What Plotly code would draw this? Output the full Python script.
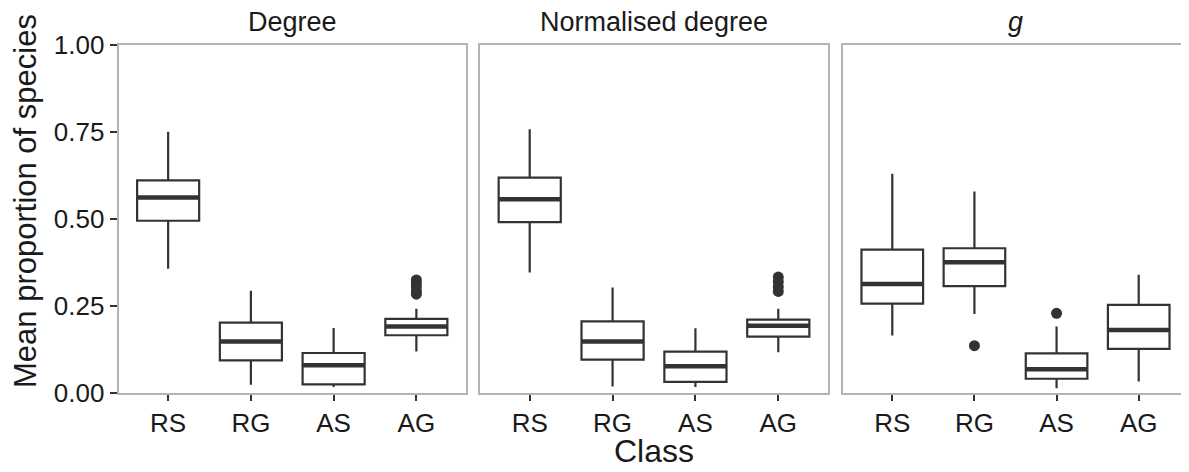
import plotly.graph_objects as go

categories = ["RS", "RG", "AS", "AG"]
panel_titles = ["Degree", "Normalised degree", "<i>g</i>"]

# Box statistics per panel: lower whisker, Q1, median, Q3, upper whisker
deg_low = [0.357, 0.024, 0.017, 0.119]
deg_q1 = [0.495, 0.094, 0.025, 0.166]
deg_med = [0.562, 0.148, 0.080, 0.191]
deg_q3 = [0.611, 0.202, 0.115, 0.213]
deg_high = [0.751, 0.294, 0.187, 0.242]
deg_out_x = ["AG", "AG", "AG", "AG", "AG"]
deg_out_y = [0.325, 0.316, 0.305, 0.293, 0.284]

nd_low = [0.346, 0.019, 0.017, 0.117]
nd_q1 = [0.491, 0.096, 0.032, 0.162]
nd_med = [0.557, 0.148, 0.077, 0.193]
nd_q3 = [0.619, 0.206, 0.119, 0.211]
nd_high = [0.758, 0.303, 0.186, 0.242]
nd_out_x = ["AG", "AG", "AG", "AG"]
nd_out_y = [0.333, 0.320, 0.305, 0.292]

g_low = [0.165, 0.227, 0.014, 0.033]
g_q1 = [0.257, 0.307, 0.041, 0.127]
g_med = [0.313, 0.376, 0.068, 0.181]
g_q3 = [0.412, 0.416, 0.114, 0.253]
g_high = [0.630, 0.579, 0.191, 0.340]
g_out_x = ["RG", "AS"]
g_out_y = [0.136, 0.229]

y_ticks = [0.0, 0.25, 0.5, 0.75, 1.0]
y_ticktext = ["0.00", "0.25", "0.50", "0.75", "1.00"]

panels = [
    (deg_low, deg_q1, deg_med, deg_q3, deg_high, deg_out_x, deg_out_y),
    (nd_low, nd_q1, nd_med, nd_q3, nd_high, nd_out_x, nd_out_y),
    (g_low, g_q1, g_med, g_q3, g_high, g_out_x, g_out_y),
]

# The page body adds an 8px offset, so the figure is 8px smaller than the window.
OFF = 8
W, H = 1189 - OFF, 472 - OFF
x_domains_px = [(118.5 - OFF, 466 - OFF), (480 - OFF, 828 - OFF), (843 - OFF, 1188 - OFF)]
y_top_px, y_bot_px = 45 - OFF, 393 - OFF
y_domain = [1 - y_bot_px / H, 1 - y_top_px / H]

FONT = "Liberation Sans, Arial, Helvetica, sans-serif"
DARK = "#333333"
TXT = "#1a1a1a"
BORDER = "#b3b3b3"
BOX_GAP = 0.25
BOX_HALF = (1 - BOX_GAP) / 2

fig = go.Figure()
layout = dict(
    width=W, height=H,
    margin=dict(l=0, r=0, t=0, b=0, pad=0, autoexpand=False),
    paper_bgcolor="white", plot_bgcolor="white",
    showlegend=False,
    boxgap=BOX_GAP, boxgroupgap=0,
    font=dict(family=FONT, color=TXT),
)
shapes = []
annotations = []

for i, (low, q1, med, q3, high, ox, oy) in enumerate(panels):
    ax = "" if i == 0 else str(i + 1)
    xref = "x" + ax
    yref = "y" + ax
    fig.add_trace(go.Box(
        x=categories, q1=q1, median=med, q3=q3,
        lowerfence=low, upperfence=high,
        boxpoints=False, whiskerwidth=0,
        fillcolor="white", line=dict(color=DARK, width=2.2),
        xaxis=xref, yaxis=yref, hoverinfo="skip",
    ))
    fig.add_trace(go.Scatter(
        x=ox, y=oy, mode="markers",
        marker=dict(color=DARK, size=11),
        xaxis=xref, yaxis=yref, hoverinfo="skip",
    ))
    for j, m in enumerate(med):
        shapes.append(dict(
            type="line", xref=xref, yref=yref,
            x0=j - BOX_HALF, x1=j + BOX_HALF, y0=m, y1=m,
            line=dict(color=DARK, width=4.5), layer="above",
        ))
    d0, d1 = x_domains_px[i]
    layout["xaxis" + ax] = dict(
        domain=[d0 / W, d1 / W], anchor="y" + ax, automargin=False,
        type="category", categoryorder="array", categoryarray=categories,
        range=[-0.6, 3.6], showgrid=False, zeroline=False,
        showline=True, mirror=True, linecolor=BORDER, linewidth=1.8,
        ticks="outside", ticklen=6, tickwidth=1.6, tickcolor=DARK,
        tickfont=dict(size=26, color=TXT, family=FONT),
        fixedrange=True,
    )
    layout["yaxis" + ax] = dict(
        domain=y_domain, anchor="x" + ax, automargin=False,
        range=[0, 1], showgrid=False, zeroline=False,
        showline=True, mirror=True, linecolor=BORDER, linewidth=1.8,
        tickvals=y_ticks, ticktext=y_ticktext,
        ticks="outside" if i == 0 else "", ticklen=7, tickwidth=1.6, tickcolor=DARK,
        showticklabels=(i == 0),
        tickfont=dict(size=26, color=TXT, family=FONT),
        fixedrange=True,
    )
    annotations.append(dict(
        text=panel_titles[i], x=(d0 + d1) / 2 / W, y=1 - (22 - OFF) / H,
        xref="paper", yref="paper", showarrow=False,
        xanchor="center", yanchor="middle",
        font=dict(size=27, family=FONT, color=TXT),
    ))

annotations.append(dict(
    text="Class", x=(654 - OFF) / W, y=1 - (451 - OFF) / H,
    xref="paper", yref="paper", showarrow=False,
    xanchor="center", yanchor="middle",
    font=dict(size=32, family=FONT, color=TXT),
))
annotations.append(dict(
    text="Mean proportion of species", x=(25 - OFF) / W, y=1 - (201 - OFF) / H,
    xref="paper", yref="paper", showarrow=False, textangle=-90,
    xanchor="center", yanchor="middle",
    font=dict(size=31, family=FONT, color=TXT),
))

layout["shapes"] = shapes
layout["annotations"] = annotations
fig.update_layout(**layout)
fig.write_html("out.html")
